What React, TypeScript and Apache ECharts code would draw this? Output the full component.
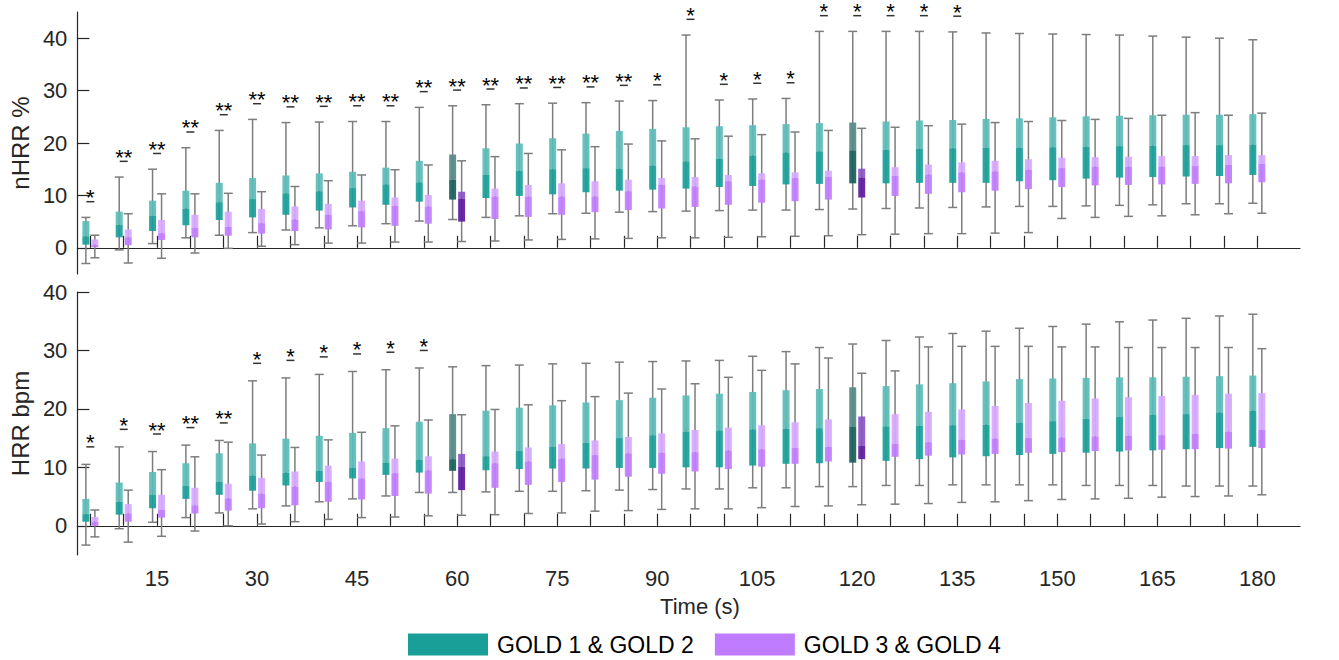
import React, { useEffect, useRef } from 'react';
import * as echarts from 'echarts';

const times = [5, 10, 15, 20, 25, 30, 35, 40, 45, 50, 55, 60, 65, 70, 75, 80, 85, 90, 95, 100, 105, 110, 115, 120, 125, 130, 135, 140, 145, 150, 155, 160, 165, 170, 175, 180];
const labelTimes = [15, 30, 45, 60, 75, 90, 105, 120, 135, 150, 165, 180];
const highlightTimes = [60, 120];

// [whisker low, Q1, median, Q3, whisker high]
const nhrrGold12 = [
  [-3.0, 0.6, 2.2, 5.1, 5.8], [-0.4, 2.0, 4.4, 6.9, 13.5], [0.8, 3.2, 6.1, 9.0, 15.0], [1.9, 4.3, 7.5, 10.9, 19.1],
  [2.4, 5.3, 8.7, 12.4, 22.4], [2.9, 5.8, 9.3, 13.3, 24.5], [3.4, 6.3, 10.4, 13.8, 23.9], [3.8, 7.1, 10.8, 14.2, 24.0],
  [4.2, 7.7, 11.4, 14.5, 24.1], [4.6, 8.2, 12.1, 15.3, 24.1], [5.1, 8.8, 12.5, 16.6, 26.8], [5.4, 9.2, 13.0, 17.8, 27.1],
  [5.8, 9.5, 13.9, 19.0, 27.3], [6.1, 9.9, 14.7, 19.9, 27.5], [6.5, 10.2, 15.0, 20.9, 27.6], [6.6, 10.6, 15.2, 21.8, 27.7],
  [6.8, 10.9, 15.1, 22.3, 28.0], [6.9, 11.1, 15.7, 22.7, 28.1], [7.0, 11.3, 16.5, 23.0, 40.6], [7.1, 11.6, 17.0, 23.2, 28.2],
  [7.2, 11.8, 17.6, 23.4, 28.4], [7.2, 12.1, 18.2, 23.6, 28.5], [7.3, 12.2, 18.4, 23.8, 41.3], [7.4, 12.3, 18.6, 23.9, 41.3],
  [7.5, 12.3, 18.7, 24.1, 41.3], [7.6, 12.4, 18.9, 24.3, 41.3], [7.7, 12.4, 19.0, 24.4, 41.2], [7.8, 12.4, 19.1, 24.6, 41.0],
  [7.9, 12.7, 19.1, 24.7, 40.9], [7.9, 12.9, 19.2, 24.9, 40.8], [8.0, 13.2, 19.3, 25.1, 40.7], [8.1, 13.4, 19.4, 25.2, 40.6],
  [8.2, 13.5, 19.5, 25.3, 40.4], [8.4, 13.6, 19.6, 25.4, 40.2], [8.4, 13.7, 19.6, 25.4, 40.0], [8.5, 13.9, 19.7, 25.5, 39.7],
];
const nhrrGold34 = [
  [-1.9, 0.1, 0.6, 1.6, 2.4], [-2.9, 0.5, 2.0, 3.5, 6.5], [-2.0, 1.5, 2.8, 5.3, 10.3], [-1.0, 2.0, 3.8, 6.3, 10.3],
  [-0.1, 2.3, 4.0, 6.9, 10.4], [0.3, 2.7, 4.7, 7.4, 10.7], [0.6, 3.2, 5.4, 7.9, 11.7], [0.9, 3.5, 6.3, 8.4, 12.8],
  [0.9, 3.9, 7.0, 9.0, 13.9], [1.1, 4.2, 8.0, 9.6, 14.9], [1.1, 4.6, 7.9, 10.1, 15.8], [1.2, 5.0, 9.4, 10.7, 16.6],
  [1.3, 5.5, 9.8, 11.3, 17.4], [1.5, 5.9, 9.8, 12.0, 18.0], [1.6, 6.3, 9.8, 12.3, 18.7], [1.7, 6.8, 9.8, 12.7, 19.3],
  [1.8, 7.2, 10.8, 13.0, 19.8], [1.9, 7.5, 12.0, 13.3, 20.4], [1.9, 7.8, 11.7, 13.5, 20.8], [2.0, 8.2, 12.7, 13.9, 21.3],
  [2.1, 8.6, 13.0, 14.2, 21.6], [2.2, 8.9, 13.3, 14.4, 22.1], [2.3, 9.2, 13.5, 14.7, 22.4], [2.5, 9.6, 13.4, 15.1, 22.8],
  [2.6, 9.9, 13.7, 15.4, 23.0], [2.7, 10.3, 14.0, 15.9, 23.3], [2.7, 10.6, 14.4, 16.3, 23.6], [2.8, 10.9, 14.6, 16.6, 23.9],
  [2.9, 11.2, 14.9, 16.9, 24.1], [5.6, 11.6, 15.2, 17.2, 24.3], [5.8, 11.9, 15.5, 17.3, 24.5], [6.0, 12.0, 15.5, 17.4, 24.7],
  [6.1, 12.1, 15.5, 17.5, 25.3], [6.3, 12.2, 15.6, 17.5, 25.8], [6.5, 12.3, 15.8, 17.7, 25.3], [6.6, 12.5, 16.0, 17.7, 25.7],
];
const hrrGold12 = [
  [-3.3, 0.7, 2.0, 4.6, 10.5], [-0.5, 1.9, 4.1, 7.4, 13.5], [0.6, 3.0, 5.3, 9.2, 12.7], [1.4, 4.6, 6.8, 10.7, 13.8],
  [2.2, 5.3, 7.5, 12.4, 14.6], [2.9, 6.0, 8.6, 14.1, 24.8], [3.4, 6.9, 9.1, 14.9, 25.3], [4.1, 7.5, 9.4, 15.4, 25.9],
  [4.6, 8.1, 9.9, 15.9, 26.4], [5.1, 8.7, 10.8, 16.7, 26.7], [5.7, 9.1, 11.3, 17.8, 27.0], [5.7, 9.4, 11.4, 19.1, 27.2],
  [5.8, 9.5, 11.9, 19.7, 27.4], [5.9, 9.7, 12.8, 20.2, 27.5], [5.9, 9.8, 13.5, 20.6, 27.7], [6.0, 9.8, 14.2, 21.1, 27.8],
  [6.1, 9.9, 15.0, 21.5, 28.0], [6.2, 9.9, 15.5, 21.9, 28.1], [6.3, 10.0, 16.1, 22.3, 28.2], [6.3, 10.0, 16.3, 22.6, 28.3],
  [6.5, 10.3, 16.5, 22.9, 29.0], [6.5, 10.6, 16.6, 23.2, 29.8], [6.7, 10.7, 16.7, 23.4, 30.5], [6.7, 10.8, 16.9, 23.7, 31.1],
  [6.9, 11.1, 17.0, 23.9, 31.7], [6.9, 11.4, 17.1, 24.2, 32.3], [7.0, 11.7, 17.2, 24.4, 32.9], [7.0, 11.9, 17.3, 24.7, 33.3],
  [7.0, 12.1, 17.6, 25.1, 33.8], [7.0, 12.3, 17.9, 25.2, 34.1], [6.9, 12.5, 18.3, 25.3, 34.5], [6.9, 12.7, 18.6, 25.4, 34.9],
  [6.9, 12.9, 19.0, 25.4, 35.2], [6.8, 13.1, 19.1, 25.5, 35.5], [6.8, 13.3, 19.4, 25.6, 35.9], [6.8, 13.5, 19.7, 25.7, 36.2],
];
const hrrGold34 = [
  [-1.9, 0.0, 0.7, 1.5, 2.7], [-2.8, 0.7, 2.1, 3.7, 6.1], [-1.8, 1.4, 2.7, 5.3, 9.6], [-0.9, 2.1, 3.5, 6.5, 11.8],
  [0.0, 2.6, 4.7, 7.2, 14.3], [0.3, 3.0, 5.5, 8.2, 12.1], [0.7, 3.5, 6.7, 9.3, 13.4], [1.1, 4.1, 7.5, 10.3, 14.7],
  [1.4, 4.5, 8.1, 11.0, 16.0], [1.5, 5.1, 9.0, 11.5, 17.1], [1.7, 5.5, 9.5, 11.9, 18.1], [1.8, 6.1, 10.1, 12.3, 19.0],
  [1.9, 6.5, 10.7, 12.7, 19.9], [2.1, 7.0, 11.0, 13.4, 20.7], [2.2, 7.5, 11.5, 14.0, 21.4], [2.5, 7.9, 12.1, 14.6, 22.1],
  [2.6, 8.4, 12.4, 15.2, 22.7], [2.8, 8.9, 12.5, 15.8, 23.4], [2.9, 9.3, 12.6, 16.4, 24.3], [2.9, 9.7, 12.9, 16.8, 25.4],
  [3.1, 10.1, 13.1, 17.2, 26.6], [3.3, 10.6, 13.3, 17.7, 27.7], [3.4, 11.0, 13.5, 18.2, 28.7], [3.6, 11.4, 13.7, 18.7, 26.1],
  [3.7, 11.8, 14.0, 19.1, 26.5], [3.8, 12.0, 14.3, 19.5, 30.6], [4.0, 12.2, 14.7, 19.9, 30.7], [4.1, 12.3, 14.9, 20.5, 30.7],
  [4.3, 12.5, 15.0, 21.0, 30.7], [4.5, 12.6, 15.1, 21.4, 30.6], [4.6, 12.8, 15.3, 21.8, 30.6], [4.7, 12.9, 15.4, 22.0, 30.5],
  [4.9, 13.0, 15.5, 22.2, 30.5], [5.0, 13.1, 15.7, 22.4, 30.5], [5.1, 13.2, 16.1, 22.6, 30.5], [5.3, 13.3, 16.4, 22.7, 30.3],
];
const sigTop = ['*', '**', '**', '**', '**', '**', '**', '**', '**', '**', '**', '**', '**', '**', '**', '**', '**', '*', '*', '*', '*', '*', '*', '*', '*', '*', '*', '', '', '', '', '', '', '', '', ''];
const sigBottom = ['*', '*', '**', '**', '**', '*', '*', '*', '*', '*', '*', '', '', '', '', '', '', '', '', '', '', '', '', '', '', '', '', '', '', '', '', '', '', '', '', ''];

const NAME_A = 'GOLD 1 & GOLD 2';
const NAME_B = 'GOLD 3 & GOLD 4';
const FONT = '"Liberation Sans", Arial, Helvetica, sans-serif';
const AXIS = '#262626';
const WHISKER = '#7d7d7d';

const teal = { normal: { upper: '#5bbcb7', lower: '#1a9e98' }, dark: { upper: '#558a87', lower: '#195e5b' } };
const purple = { normal: { upper: '#d7a8ff', lower: '#c07cfe' }, dark: { upper: '#8b52c4', lower: '#5c1a9e' } };

function boxRender(offset: number, pal: any) {
  return (params: any, api: any) => {
    const t = api.value(0);
    const cx = api.coord([t, 0])[0] + offset;
    const yLo = api.coord([t, api.value(1)])[1];
    const yQ1 = api.coord([t, api.value(2)])[1];
    const yMed = api.coord([t, api.value(3)])[1];
    const yQ3 = api.coord([t, api.value(4)])[1];
    const yHi = api.coord([t, api.value(5)])[1];
    const c = highlightTimes.includes(t) ? pal.dark : pal.normal;
    const w = 7;
    const ls = { stroke: WHISKER, lineWidth: 1.5 };
    return {
      type: 'group',
      children: [
        { type: 'line', shape: { x1: cx, y1: yHi, x2: cx, y2: yLo }, style: ls },
        { type: 'line', shape: { x1: cx - 4.5, y1: yHi, x2: cx + 4.5, y2: yHi }, style: ls },
        { type: 'line', shape: { x1: cx - 4.5, y1: yLo, x2: cx + 4.5, y2: yLo }, style: ls },
        { type: 'rect', shape: { x: cx - w / 2, y: yQ3, width: w, height: yMed - yQ3 }, style: { fill: c.upper, opacity: 0.92 } },
        { type: 'rect', shape: { x: cx - w / 2, y: yMed, width: w, height: yQ1 - yMed }, style: { fill: c.lower, opacity: 0.92 } },
      ],
    };
  };
}

function sigRender(labels: string[]) {
  return (params: any, api: any) => {
    const t = api.value(0);
    const p = api.coord([t, api.value(1)]);
    const lab = labels[api.value(2)];
    return {
      type: 'group',
      children: [
        { type: 'line', shape: { x1: p[0] - 4, y1: p[1], x2: p[0] + 4, y2: p[1] }, style: { stroke: '#333', lineWidth: 1.5 } },
        { type: 'text', x: p[0], y: p[1] - 4, style: { text: lab, fill: '#000', font: `22px ${FONT}`, align: 'center', verticalAlign: 'middle' } },
      ],
    };
  };
}

function boxData(stats: number[][]) {
  return times.map((t, i) => [t, ...stats[i]]);
}

function sigData(labels: string[], a: number[][], b: number[][]) {
  const out: number[][] = [];
  times.forEach((t, i) => {
    if (labels[i]) out.push([t, Math.max(a[i][4], b[i][4]) + 3, i]);
  });
  return out;
}

export default function App() {
  const ref = useRef<HTMLDivElement>(null);
  useEffect(() => {
    if (!ref.current) return;
    const chart = echarts.init(ref.current, null, { renderer: 'svg' });
    const axisLine = { show: true, lineStyle: { color: AXIS, width: 1.2 } };
    const tickStyle = { color: AXIS, width: 1.2 };
    const xBase = (gi: number, showLabels: boolean) => ({
      type: 'value', gridIndex: gi, min: 3.05, max: 186.4,
      axisLine, splitLine: { show: false },
      axisTick: { show: true, inside: true, length: 12, customValues: times, lineStyle: tickStyle },
      axisLabel: showLabels
        ? { show: true, customValues: labelTimes, fontSize: 22, color: AXIS, fontFamily: FONT, margin: 12 }
        : { show: false },
    });
    const yBase = (gi: number, max: number, name: string) => ({
      type: 'value', gridIndex: gi, min: -5, max,
      axisLine, splitLine: { show: false },
      axisTick: { show: true, inside: true, length: 12, customValues: [0, 10, 20, 30, 40], lineStyle: tickStyle },
      axisLabel: { show: true, customValues: [0, 10, 20, 30, 40], fontSize: 22, color: AXIS, fontFamily: FONT, margin: 10 },
      name, nameLocation: 'middle', nameGap: 32, nameRotate: 90,
      nameTextStyle: { fontSize: 24, color: AXIS, fontFamily: FONT },
    });
    const boxSeries = (name: string, gi: number, stats: number[][], offset: number, pal: any, z: number) => ({
      type: 'custom', name, xAxisIndex: gi, yAxisIndex: gi,
      renderItem: boxRender(offset, pal),
      itemStyle: { color: pal.normal.lower },
      encode: { x: 0, y: [1, 2, 3, 4, 5] },
      data: boxData(stats), z,
    });
    const sigSeries = (gi: number, labels: string[], a: number[][], b: number[][]) => ({
      type: 'custom', xAxisIndex: gi, yAxisIndex: gi,
      renderItem: sigRender(labels),
      encode: { x: 0, y: 1 },
      data: sigData(labels, a, b), z: 5,
    });
    chart.setOption({
      animation: false,
      backgroundColor: '#fff',
      grid: [
        { left: 73, right: 39, top: 12, height: 262 },
        { left: 73, right: 39, top: 292, height: 263 },
      ],
      xAxis: [xBase(0, false), xBase(1, true)],
      yAxis: [yBase(0, 45, 'nHRR %'), yBase(1, 40, 'HRR bpm')],
      legend: {
        data: [{ name: NAME_A, icon: 'rect' }, { name: NAME_B, icon: 'rect' }],
        left: 408, top: 633, padding: 0, itemWidth: 80, itemHeight: 22, itemGap: 21,
        textStyle: { fontSize: 23, color: '#000', fontFamily: FONT, padding: [0, 0, 0, 4] },
      },
      graphic: [
        { type: 'text', x: 700, y: 606, style: { text: 'Time (s)', font: `22px ${FONT}`, fill: AXIS, align: 'center', verticalAlign: 'middle' } },
      ],
      series: [
        boxSeries(NAME_A, 0, nhrrGold12, -4.5, teal, 2),
        boxSeries(NAME_B, 0, nhrrGold34, 4.5, purple, 2),
        boxSeries(NAME_A, 1, hrrGold12, -4.5, teal, 2),
        boxSeries(NAME_B, 1, hrrGold34, 4.5, purple, 2),
        sigSeries(0, sigTop, nhrrGold12, nhrrGold34),
        sigSeries(1, sigBottom, hrrGold12, hrrGold34),
      ],
    });
    return () => chart.dispose();
  }, []);
  return <div ref={ref} style={{ position: 'fixed', left: 0, top: 0, width: 1339, height: 660 }} />;
}
